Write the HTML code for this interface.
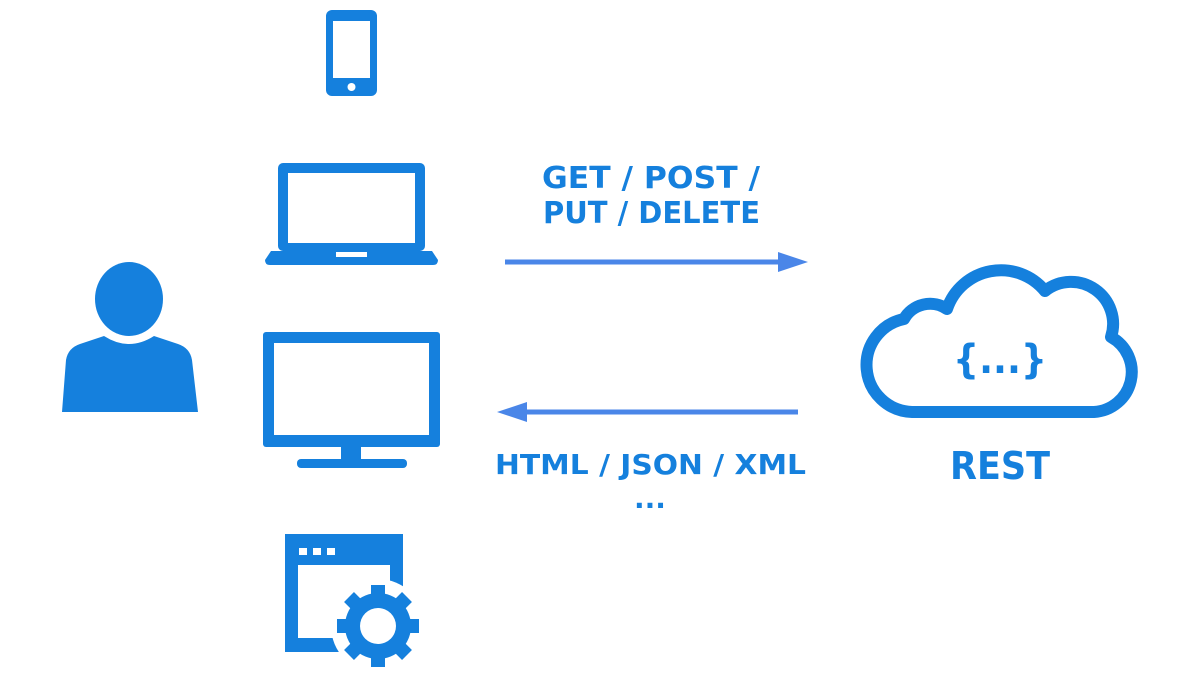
<!DOCTYPE html>
<html><head><meta charset="utf-8"><style>
html,body{margin:0;padding:0;background:#fff;}
svg{display:block}
text{font-family:"DejaVu Sans","Liberation Sans",sans-serif;font-weight:bold;fill:#1580DD}
</style></head><body>
<svg width="1200" height="675" viewBox="0 0 1200 675" xmlns="http://www.w3.org/2000/svg">
<g fill="#1580DD">
<rect x="326" y="10" width="51" height="86" rx="6"/>
<rect x="333" y="21" width="37" height="57" fill="#fff"/>
<circle cx="351.5" cy="87" r="4" fill="#fff"/>
<rect x="278" y="163" width="147" height="88" rx="5"/>
<rect x="288" y="173" width="127" height="70" fill="#fff"/>
<path d="M271 251 H432 L438 260 Q438 265 433 265 H270 Q265 265 265 260 Z"/>
<rect x="336" y="252" width="31" height="5" fill="#fff"/>
<rect x="263" y="332" width="177" height="115" rx="3"/>
<rect x="274" y="343" width="155" height="92" fill="#fff"/>
<rect x="341" y="446" width="20" height="15"/>
<rect x="297" y="459" width="110" height="9" rx="4"/>
<rect x="285" y="534" width="118" height="118"/>
<rect x="298" y="565" width="92" height="73" fill="#fff"/>
<rect x="299" y="548" width="8" height="7" fill="#fff"/>
<rect x="313" y="548" width="8" height="7" fill="#fff"/>
<rect x="327" y="548" width="8" height="7" fill="#fff"/>
<circle cx="378" cy="626" r="47" fill="#fff"/>
<g transform="translate(378,626)">
<circle r="33"/>
<rect x="-7" y="-41" width="14" height="14"/>
<rect x="-7" y="-41" width="14" height="14" transform="rotate(45)"/>
<rect x="-7" y="-41" width="14" height="14" transform="rotate(90)"/>
<rect x="-7" y="-41" width="14" height="14" transform="rotate(135)"/>
<rect x="-7" y="-41" width="14" height="14" transform="rotate(180)"/>
<rect x="-7" y="-41" width="14" height="14" transform="rotate(225)"/>
<rect x="-7" y="-41" width="14" height="14" transform="rotate(270)"/>
<rect x="-7" y="-41" width="14" height="14" transform="rotate(315)"/>
<circle r="18" fill="#fff"/>
</g>
<ellipse cx="129" cy="299" rx="34" ry="37"/>
<path d="M62 412 L66 360 Q68 348 80 344 L104 336 Q129 352 154 336 L178 344 Q190 348 192 360 L198 412 Z"/>
</g>
<path d="M912 412 A47 47 0 0 1 904 319 A30 30 0 0 1 947 309 A57 57 0 0 1 1045 291 A42 42 0 0 1 1111 337 A40 40 0 0 1 1094 412 Z" fill="none" stroke="#1580DD" stroke-width="12" stroke-linejoin="round"/>
<text x="1000" y="373" font-size="40" text-anchor="middle" textLength="94" lengthAdjust="spacingAndGlyphs">{...}</text>
<rect x="505" y="259.5" width="276" height="5" fill="#4A86E8"/>
<path d="M778 252 L808 262 L778 272 Z" fill="#4A86E8"/>
<rect x="524" y="409.5" width="274" height="5" fill="#4A86E8"/>
<path d="M527 402 L497 412 L527 422 Z" fill="#4A86E8"/>
<text x="542" y="188" font-size="30" textLength="218" lengthAdjust="spacingAndGlyphs">GET / POST  /</text>
<text x="543" y="223" font-size="30" textLength="217" lengthAdjust="spacingAndGlyphs">PUT / DELETE</text>
<text x="495" y="474" font-size="28" textLength="311" lengthAdjust="spacingAndGlyphs">HTML / JSON / XML</text>
<text x="650" y="508" font-size="28" text-anchor="middle">...</text>
<text x="1000" y="479" font-size="38" text-anchor="middle" textLength="100" lengthAdjust="spacingAndGlyphs">REST</text>
</svg>
</body></html>
